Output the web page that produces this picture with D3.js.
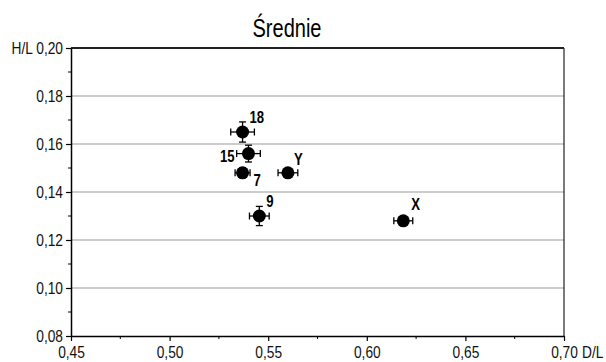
<!DOCTYPE html>
<html>
<head>
<meta charset="utf-8">
<script src="https://cdn.jsdelivr.net/npm/d3@7"></script>
<style>
  body { margin: 0; background: #fff; }
  svg text { font-family: "Liberation Sans", Arial, sans-serif; }
</style>
</head>
<body>
<svg id="chart" width="606" height="362"></svg>
<script>
// data
let labels = ["18", "15", "7", "Y", "9", "X"];
let dl     = [0.537, 0.540, 0.537, 0.560, 0.5455, 0.6185];
let hl     = [0.165, 0.156, 0.148, 0.148, 0.130, 0.128];
let dlErr  = [0.006, 0.006, 0.0038, 0.005, 0.005, 0.0048];
let hlErr  = [0.0042, 0.0035, 0.002, 0.0015, 0.004, 0.0015];
let xTicks = [0.45, 0.50, 0.55, 0.60, 0.65, 0.70];
let yTicks = [0.08, 0.10, 0.12, 0.14, 0.16, 0.18, 0.20];

// label placement relative to each point
let labelPos = {
    "18": {dx: 7, dy: -9, anchor: "start"},
    "15": {dx: -14, dy: 8, anchor: "end"},
    "7":  {dx: 11, dy: 13, anchor: "start"},
    "Y":  {dx: 6, dy: -8, anchor: "start"},
    "9":  {dx: 7, dy: -9, anchor: "start"},
    "X":  {dx: 8, dy: -11, anchor: "start"}
};

let svg = d3.select("svg#chart"),
    margin = {top: 48, right: 42, bottom: 26, left: 71},
    width = +svg.attr("width") - margin.left - margin.right,
    height = +svg.attr("height") - margin.top - margin.bottom,
    g = svg.append("g").attr("transform", "translate(" + margin.left + "," + margin.top + ")");

let x = d3.scaleLinear().domain([0.45, 0.70]).range([0, width]);
let y = d3.scaleLinear().domain([0.08, 0.20]).range([height, 0]);
let fmt = function(d) { return d3.format(".2f")(d).replace(".", ","); };

// the original font is a narrow one, squeeze text horizontally
let tickSx = 0.86;

// title
svg.append("text")
    .attr("transform", "translate(287,37) scale(0.77,1)")
    .attr("text-anchor", "middle")
    .style("font-size", "26px")
    .text("Średnie");

// gridlines
g.append("g")
    .selectAll("line")
    .data(yTicks.filter(function(d) { return d > 0.08 && d < 0.20; }))
    .join("line")
    .attr("x1", 0).attr("x2", width)
    .attr("y1", function(d) { return y(d); })
    .attr("y2", function(d) { return y(d); })
    .attr("stroke", "#9a9a9a")
    .attr("stroke-width", 1.2);

// frame: top thick, right thin
g.append("line").attr("x1", 0).attr("x2", width).attr("y1", 0).attr("y2", 0)
    .attr("stroke", "#222").attr("stroke-width", 1.8);
g.append("line").attr("x1", width).attr("x2", width).attr("y1", 0).attr("y2", height)
    .attr("stroke", "#222").attr("stroke-width", 1.2);

// minor ticks
g.append("g").selectAll("line")
    .data(d3.range(0.475, 0.70, 0.05))
    .join("line")
    .attr("x1", function(d) { return x(d); }).attr("x2", function(d) { return x(d); })
    .attr("y1", height).attr("y2", height + 3)
    .attr("stroke", "#000");
g.append("g").selectAll("line")
    .data(d3.range(0.09, 0.20, 0.02))
    .join("line")
    .attr("y1", function(d) { return y(d); }).attr("y2", function(d) { return y(d); })
    .attr("x1", 0).attr("x2", -3)
    .attr("stroke", "#000");

// axes
let xAxis = g.append("g")
    .attr("transform", "translate(0," + height + ")")
    .call(d3.axisBottom(x).tickValues(xTicks).tickFormat(fmt).tickSize(5).tickSizeOuter(0));
let yAxis = g.append("g")
    .call(d3.axisLeft(y).tickValues(yTicks).tickFormat(fmt).tickSize(5).tickSizeOuter(0));
[xAxis, yAxis].forEach(function(a) {
    a.select(".domain").attr("stroke", "#000").attr("stroke-width", 1.5);
    a.selectAll(".tick line").attr("stroke", "#000").attr("stroke-width", 1.2);
    a.selectAll("text")
        .attr("fill", "#111")
        .attr("transform", "scale(" + tickSx + ",1)")
        .style("font-size", "16px")
        .style("font-family", "'Liberation Sans', Arial, sans-serif");
});
xAxis.selectAll("text").attr("y", 22).attr("dy", 0);
yAxis.selectAll("text").attr("x", -8 / tickSx).attr("dy", "0.36em");

// axis names
g.append("text")
    .attr("transform", "translate(-38," + y(0.20) + ") scale(" + tickSx + ",1)")
    .attr("dy", "0.36em")
    .attr("text-anchor", "end")
    .style("font-size", "16px")
    .attr("fill", "#111")
    .text("H/L");
g.append("text")
    .attr("transform", "translate(" + (x(0.70) + 18) + "," + (height + 22) + ") scale(" + tickSx + ",1)")
    .attr("text-anchor", "start")
    .style("font-size", "16px")
    .attr("fill", "#111")
    .text("D/L");

// points with error bars
let pts = labels.map(function(l, i) {
    return {label: l, x: dl[i], y: hl[i], ex: dlErr[i], ey: hlErr[i]};
});
let capH = 3.5;
let pg = g.append("g").selectAll("g")
    .data(pts)
    .join("g");

pg.append("line")
    .attr("x1", function(d) { return x(d.x - d.ex); })
    .attr("x2", function(d) { return x(d.x + d.ex); })
    .attr("y1", function(d) { return y(d.y); })
    .attr("y2", function(d) { return y(d.y); })
    .attr("stroke", "#000").attr("stroke-width", 1.3);
pg.append("line")
    .attr("x1", function(d) { return x(d.x); })
    .attr("x2", function(d) { return x(d.x); })
    .attr("y1", function(d) { return y(d.y - d.ey); })
    .attr("y2", function(d) { return y(d.y + d.ey); })
    .attr("stroke", "#000").attr("stroke-width", 1.3);
// caps
[-1, 1].forEach(function(s) {
    pg.append("line")
        .attr("x1", function(d) { return x(d.x + s * d.ex); })
        .attr("x2", function(d) { return x(d.x + s * d.ex); })
        .attr("y1", function(d) { return y(d.y) - capH; })
        .attr("y2", function(d) { return y(d.y) + capH; })
        .attr("stroke", "#000").attr("stroke-width", 1.3);
    pg.append("line")
        .attr("x1", function(d) { return x(d.x) - capH; })
        .attr("x2", function(d) { return x(d.x) + capH; })
        .attr("y1", function(d) { return y(d.y + s * d.ey); })
        .attr("y2", function(d) { return y(d.y + s * d.ey); })
        .attr("stroke", "#000").attr("stroke-width", 1.3);
});
pg.append("circle")
    .attr("cx", function(d) { return x(d.x); })
    .attr("cy", function(d) { return y(d.y); })
    .attr("r", 6.5)
    .attr("fill", "#000");
pg.append("text")
    .attr("transform", function(d) {
        let p = labelPos[d.label];
        return "translate(" + (x(d.x) + p.dx) + "," + (y(d.y) + p.dy) + ") scale(0.82,1)";
    })
    .attr("text-anchor", function(d) { return labelPos[d.label].anchor; })
    .style("font-size", "16px")
    .style("font-weight", "bold")
    .attr("fill", "#000")
    .text(function(d) { return d.label; });
</script>
</body>
</html>
